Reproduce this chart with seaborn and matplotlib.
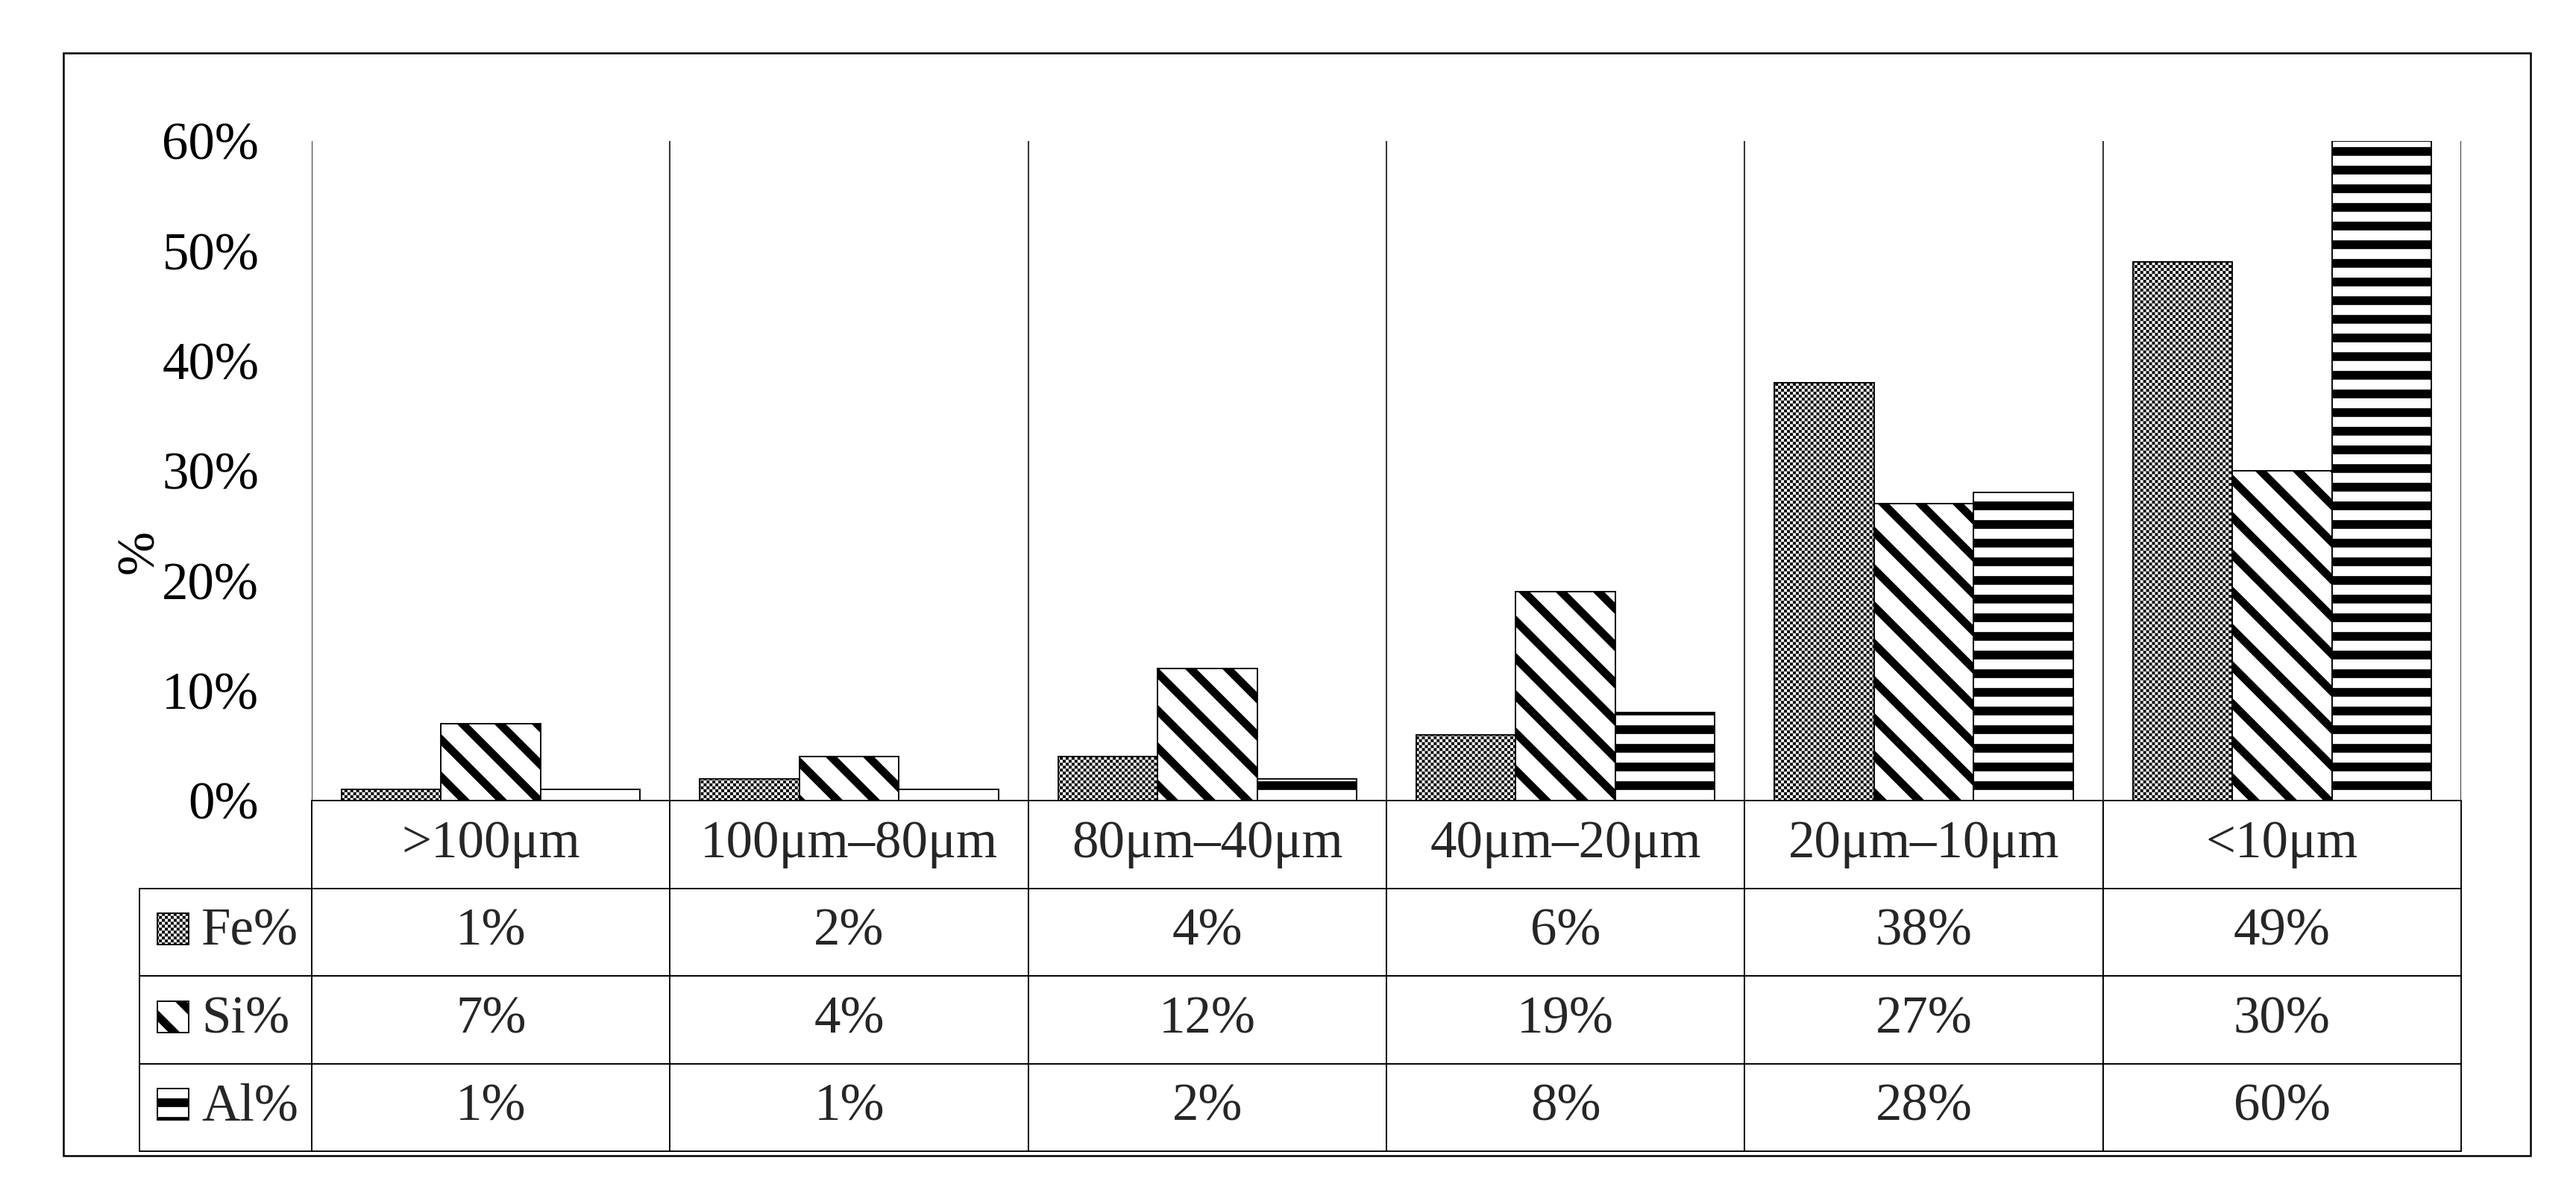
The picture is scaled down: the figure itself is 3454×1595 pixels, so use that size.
import numpy as np
import pandas as pd
import matplotlib
matplotlib.use('Agg')
import matplotlib.pyplot as plt
import matplotlib.hatch as mhatch
from matplotlib.path import Path
from matplotlib.patches import Rectangle
from matplotlib.ticker import PercentFormatter
import seaborn as sns

# particle size classes and the share of each element found in them
sizes = ['>100μm', '100μm–80μm', '80μm–40μm', '40μm–20μm', '20μm–10μm', '<10μm']
elements = ['Fe%', 'Si%', 'Al%']
fe = [0.01, 0.02, 0.04, 0.06, 0.38, 0.49]
si = [0.07, 0.04, 0.12, 0.19, 0.27, 0.30]
al = [0.01, 0.01, 0.02, 0.08, 0.28, 0.60]


# fine checkerboard fill, used for the '.' hatch instead of the small dots
class Checker(mhatch.HatchPatternBase):
    def __init__(self, hatch, density):
        self.n = hatch.count('.') * int(density) * 76 // 6
        self.num_vertices = (self.n * self.n // 2) * 5

    def set_vertices_and_codes(self, vertices, codes):
        step = 1.0 / self.n
        k = 0
        for i in range(self.n):
            for j in range(self.n):
                if (i + j) % 2:
                    continue
                x, y = i * step, j * step
                vertices[k:k + 5] = [(x, y), (x + step, y), (x + step, y + step),
                                     (x, y + step), (x, y)]
                codes[k:k + 5] = [Path.MOVETO, Path.LINETO, Path.LINETO,
                                  Path.LINETO, Path.CLOSEPOLY]
                k += 5


# horizontal stripes, shifted a little so the bands sit like in the original
class Stripes(mhatch.HatchPatternBase):
    shift = 0.0317

    def __init__(self, hatch, density):
        self.num_lines = int((hatch.count('-') + hatch.count('+')) * density)
        self.num_vertices = (self.num_lines + 2) * 2 if self.num_lines else 0

    def set_vertices_and_codes(self, vertices, codes):
        n = self.num_lines
        steps = (np.arange(-1, n + 1) + 0.5) / n + self.shift
        vertices[0::2, 0] = 0.0
        vertices[0::2, 1] = steps
        vertices[1::2, 0] = 1.0
        vertices[1::2, 1] = steps
        codes[0::2] = Path.MOVETO
        codes[1::2] = Path.LINETO


mhatch._hatch_types = [t for t in mhatch._hatch_types
                       if t not in (mhatch.SmallFilledCircles, mhatch.HorizontalHatch)]
mhatch._hatch_types += [Checker, Stripes]

hatches = {'Fe%': '.', 'Si%': '\\\\', 'Al%': '--'}
hatch_lw = {'Fe%': 0.0, 'Si%': 2.6, 'Al%': 2.8}

sns.set_style('white')
plt.rcParams['font.family'] = ['Liberation Serif', 'DejaVu Serif']
plt.rcParams['hatch.linewidth'] = 2.6
plt.rcParams['hatch.color'] = 'black'

df = pd.DataFrame({'size': sizes * 3,
                   'element': np.repeat(elements, len(sizes)),
                   'value': fe + si + al})

fig = plt.figure(figsize=(3454 / 300, 1595 / 300), dpi=300)
ax = fig.add_axes([418 / 3454, 1 - 1073 / 1595, 2882 / 3454, 884 / 1595])

sns.barplot(data=df, x='size', y='value', hue='element', order=sizes,
            hue_order=elements, palette=['white'] * 3, saturation=1,
            width=0.833, edgecolor='black', linewidth=0.45, errorbar=None,
            legend=False, ax=ax)

for cont, el in zip(ax.containers, elements):
    for bar in cont:
        bar.set_hatch(hatches[el])
        if hasattr(bar, 'set_hatch_linewidth'):
            bar.set_hatch_linewidth(hatch_lw[el])

# axes: percent scale, vertical separators between size classes
ax.set_ylim(0, 0.6)
ax.set_xlim(-0.5, len(sizes) - 0.5)
ax.set_yticks(np.arange(0, 0.61, 0.1))
ax.yaxis.set_major_formatter(PercentFormatter(1.0, decimals=0))
ax.set_xticks([])
ax.set_xticks(np.arange(-0.5, len(sizes), 1), minor=True)
ax.grid(True, which='minor', axis='x', color='#3a3a3a', linewidth=0.5)
ax.tick_params(which='both', length=0)
ax.tick_params(axis='y', pad=17, labelsize=17, labelcolor='black')
ax.set_xlabel('')
ax.set_ylabel('%', fontsize=17, color='black')
ax.yaxis.set_label_coords(-0.0687, 0.377)
sns.despine(ax=ax, left=True, bottom=True)

# data table under the bars
cell_text = [[el] + [f'{round(v * 100)}%' for v in vals]
             for el, vals in zip(elements, [fe, si, al])]
tab_left = (187 - 418) / 2882
tab_h = 470 / 884
table = ax.table(cellText=cell_text, colLabels=[''] + sizes, cellLoc='center',
                 colWidths=[231 / 3113] + [480.3 / 3113] * len(sizes),
                 bbox=[tab_left, -tab_h, 1 - tab_left, tab_h])
table.auto_set_font_size(False)
table.set_fontsize(17)
for (r, c), cell in table.get_celld().items():
    cell.set_linewidth(0.45)
    cell.set_edgecolor('black')
    if r == 0 and c == 0:
        cell.visible_edges = 'open'
    elif c == 0:
        cell.get_text().set_horizontalalignment('left')
        cell.PAD = 0.36

# legend swatches in the first column
row_h = tab_h / 4
sw_w, sw_h = 42 / 2882, 42 / 884
for i, el in enumerate(elements):
    yc = -row_h * (i + 1.5) + 4 / 884
    sw = Rectangle(((211 - 418) / 2882, yc - sw_h / 2), sw_w, sw_h,
                   transform=ax.transAxes, clip_on=False, facecolor='white',
                   edgecolor='black', linewidth=0.45, hatch=hatches[el], zorder=5)
    if hasattr(sw, 'set_hatch_linewidth'):
        sw.set_hatch_linewidth(hatch_lw[el])
    ax.add_patch(sw)

# outer frame
fig.add_artist(Rectangle((85 / 3454, 1 - 1549 / 1595), (3393 - 85) / 3454,
                         (1549 - 71) / 1595, transform=fig.transFigure,
                         fill=False, edgecolor='black', linewidth=0.6))

fig.savefig('out.png', dpi=300)
